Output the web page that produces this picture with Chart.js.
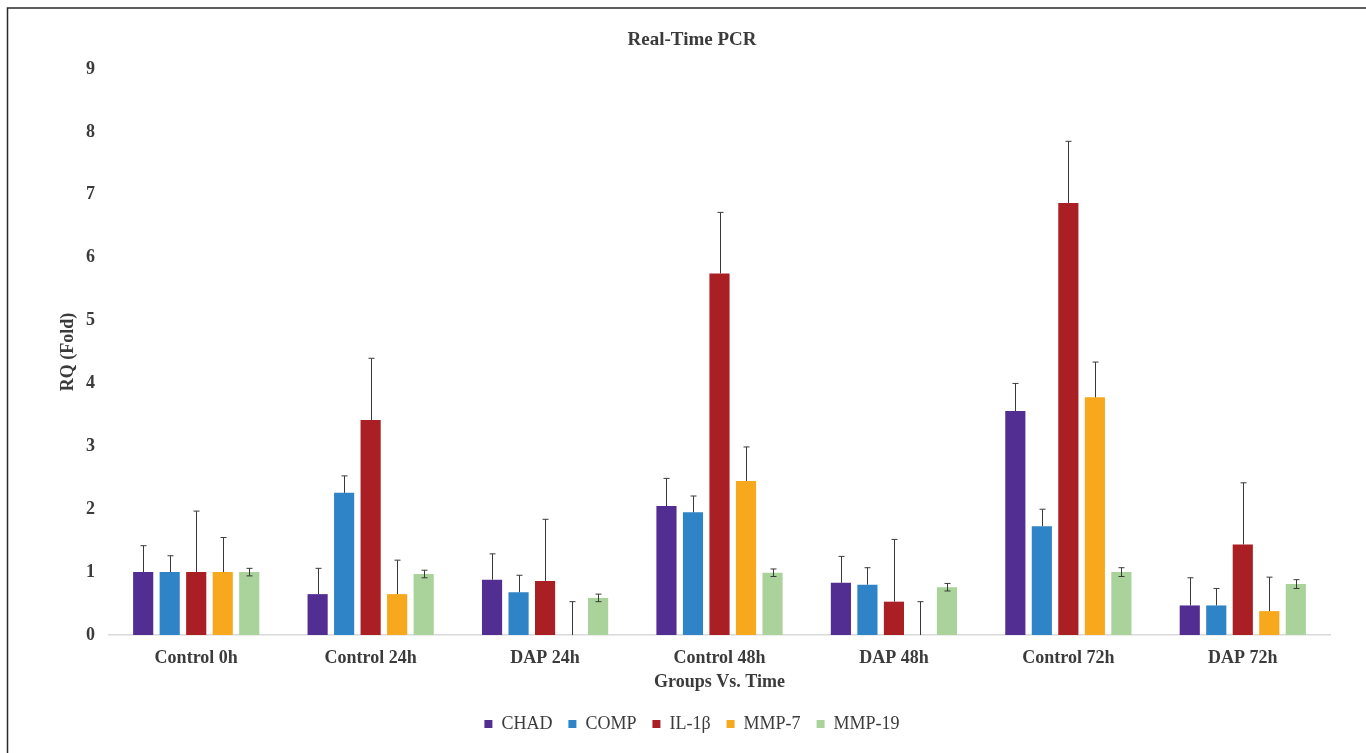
<!DOCTYPE html>
<html>
<head>
<meta charset="utf-8">
<script src="https://cdn.jsdelivr.net/npm/chart.js@4.4.1/dist/chart.umd.min.js"></script>
<style>
  html, body { margin: 0; padding: 0; background: #ffffff; }
  #wrap { width: 1366px; height: 753px; position: relative; }
</style>
</head>
<body>
<div id="wrap"><canvas id="c" width="1366" height="753"></canvas></div>
<script>
const categories = ['Control 0h', 'Control 24h', 'DAP 24h', 'Control 48h', 'DAP 48h', 'Control 72h', 'DAP 72h'];
const seriesNames = ['CHAD', 'COMP', 'IL-1β', 'MMP-7', 'MMP-19'];
const seriesColors = ['#532e92', '#2e84c6', '#a91f24', '#f8a81d', '#a9d39b'];

const chadValues  = [1.00, 0.65, 0.88, 2.05, 0.83, 3.56, 0.47];
const compValues  = [1.00, 2.26, 0.68, 1.95, 0.80, 1.73, 0.47];
const il1bValues  = [1.00, 3.42, 0.86, 5.75, 0.53, 6.87, 1.44];
const mmp7Values  = [1.00, 0.65, 0.00, 2.45, 0.00, 3.78, 0.38];
const mmp19Values = [1.00, 0.97, 0.59, 0.99, 0.76, 1.00, 0.81];

const chadErrors  = [0.42, 0.41, 0.41, 0.44, 0.42, 0.44, 0.44];
const compErrors  = [0.26, 0.27, 0.27, 0.26, 0.27, 0.27, 0.27];
const il1bErrors  = [0.97, 0.98, 0.98, 0.97, 0.99, 0.98, 0.98];
const mmp7Errors  = [0.55, 0.54, 0.53, 0.54, 0.53, 0.56, 0.54];
const mmp19Errors = [0.06, 0.06, 0.06, 0.06, 0.06, 0.07, 0.07];

const yTicks = [0, 1, 2, 3, 4, 5, 6, 7, 8, 9];

const valueSets = [chadValues, compValues, il1bValues, mmp7Values, mmp19Values];
const errorSets = [chadErrors, compErrors, il1bErrors, mmp7Errors, mmp19Errors];
const twoSided = [false, false, false, false, true];

const serif = "'Liberation Serif', 'Times New Roman', serif";
const textColor = '#3b3b3b';

const framePlugin = {
  id: 'frame',
  beforeDraw(chart) {
    const ctx = chart.ctx;
    ctx.save();
    ctx.fillStyle = '#ffffff';
    ctx.fillRect(0, 0, chart.width, chart.height);
    ctx.strokeStyle = '#2a2a2a';
    ctx.lineWidth = 1.5;
    ctx.beginPath();
    ctx.moveTo(7.5, chart.height + 2);
    ctx.lineTo(7.5, 8);
    ctx.lineTo(chart.width + 2, 8);
    ctx.stroke();
    ctx.restore();
  }
};

const errorBarPlugin = {
  id: 'errorBars',
  afterDatasetsDraw(chart) {
    const ctx = chart.ctx;
    const y = chart.scales.y;
    ctx.save();
    ctx.strokeStyle = '#3a3a3a';
    ctx.lineWidth = 1;
    chart.data.datasets.forEach((ds, di) => {
      const meta = chart.getDatasetMeta(di);
      meta.data.forEach((bar, i) => {
        const v = valueSets[di][i];
        const e = errorSets[di][i];
        const x = Math.round(bar.x) + 0.5;
        const yTop = y.getPixelForValue(v + e);
        const yBot = twoSided[di] ? y.getPixelForValue(v - e) : y.getPixelForValue(v);
        const cap = 3;
        ctx.beginPath();
        ctx.moveTo(x, yBot);
        ctx.lineTo(x, yTop);
        ctx.moveTo(x - cap, yTop);
        ctx.lineTo(x + cap, yTop);
        if (twoSided[di]) {
          ctx.moveTo(x - cap, yBot);
          ctx.lineTo(x + cap, yBot);
        }
        ctx.stroke();
      });
    });
    ctx.restore();
  }
};

new Chart(document.getElementById('c'), {
  type: 'bar',
  data: {
    labels: categories,
    datasets: seriesNames.map((name, i) => ({
      label: name,
      data: valueSets[i],
      backgroundColor: seriesColors[i],
      borderWidth: 0,
      categoryPercentage: 0.76,
      barPercentage: 0.76
    }))
  },
  options: {
    responsive: false,
    animation: false,
    devicePixelRatio: 1,
    layout: { padding: { left: 18, right: 0, top: 0, bottom: 10 } },
    scales: {
      x: {
        grid: { display: false, drawTicks: false },
        border: { display: true, color: '#d9d9d9', width: 1.5 },
        ticks: { color: textColor, padding: 13, font: { family: serif, size: 18, weight: 'bold' } },
        title: { display: true, text: 'Groups Vs. Time', color: textColor,
                 font: { family: serif, size: 18, weight: 'bold' }, padding: { top: 0, bottom: 6 } },
        afterFit(s) { s.height = 64; }
      },
      y: {
        min: 0, max: 9,
        afterBuildTicks(s) { s.ticks = yTicks.map(v => ({ value: v })); },
        grid: { display: false, drawTicks: false },
        border: { display: false },
        ticks: { color: textColor, padding: 14, font: { family: serif, size: 18, weight: 'bold' } },
        title: { display: true, text: 'RQ (Fold)', color: textColor,
                 font: { family: serif, size: 18, weight: 'bold' }, padding: { top: 40, bottom: 0 } },
        afterFit(s) { s.width = 91; }
      },
      yRight: {
        position: 'right',
        min: 0, max: 9,
        grid: { display: false, drawTicks: false },
        border: { display: false },
        ticks: { display: false },
        afterFit(s) { s.width = 36; }
      }
    },
    plugins: {
      title: {
        display: true, text: 'Real-Time PCR', color: textColor,
        font: { family: serif, size: 19, weight: 'bold' },
        padding: { top: 28.5, bottom: 17.7 }
      },
      legend: {
        position: 'bottom',
        labels: {
          color: textColor, boxWidth: 8, boxHeight: 8, padding: 16,
          font: { family: serif, size: 18 }
        }
      },
      tooltip: { enabled: false }
    }
  },
  plugins: [framePlugin, errorBarPlugin]
});
</script>
</body>
</html>
